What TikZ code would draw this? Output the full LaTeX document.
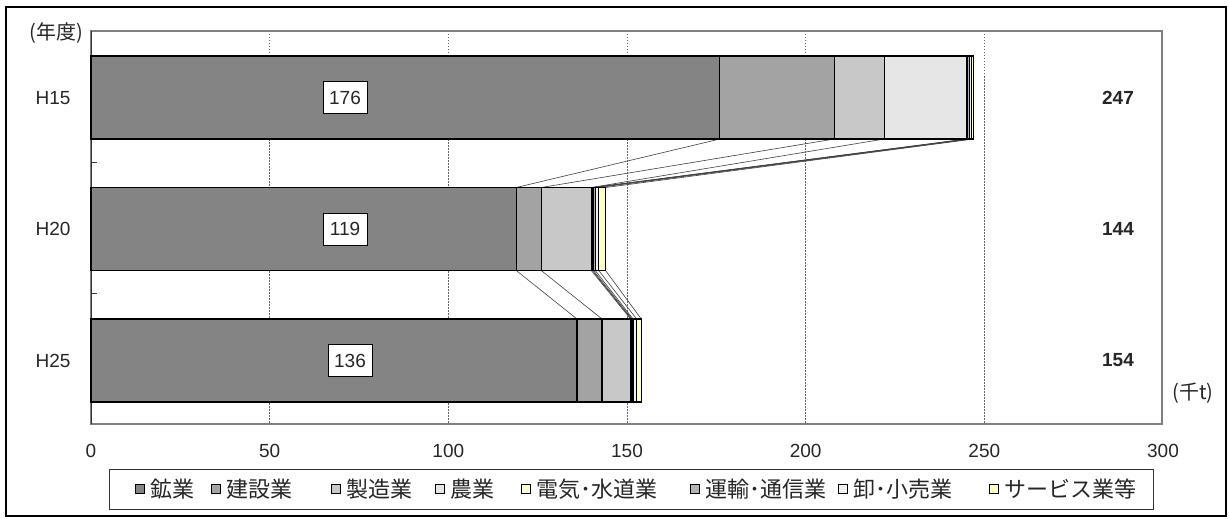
\documentclass[tikz,border=0pt]{standalone}
\usepackage{fontspec}
\setmainfont{Liberation Sans}
\newfontfamily\jp{Noto Sans CJK JP}
\definecolor{cA}{HTML}{848484}
\definecolor{cB}{HTML}{A3A3A3}
\definecolor{cC}{HTML}{C8C8C8}
\definecolor{cD}{HTML}{E6E6E6}
\definecolor{cE}{HTML}{FFFFD8}
\definecolor{cF}{HTML}{B4B4B4}
\definecolor{cG}{HTML}{F2F2F2}
\definecolor{cH}{HTML}{FFFFC8}
\definecolor{framegray}{HTML}{808080}
\definecolor{txt}{HTML}{262626}
\begin{document}
\begin{tikzpicture}[x=1pt,y=-1pt,
  s1/.style={fill=cA}, s2/.style={fill=cB}, s3/.style={fill=cC}, s4/.style={fill=cD},
  s5/.style={fill=cE}, s6/.style={fill=cF}, s7/.style={fill=cG}, s8/.style={fill=cH},
  seg/.style={draw=black, line width=1.1pt},
  conn/.style={draw=black!75, line width=0.6pt},
  grid/.style={draw=black!60, line width=0.8pt, dash pattern=on 1.5pt off 1.5pt},
  fnum/.style={font=\fontsize{19}{19}\selectfont, text=txt, inner sep=0pt},
  ftot/.style={font=\fontsize{19}{19}\selectfont\bfseries, text=txt, inner sep=0pt},
  fjp/.style={font=\jp\fontsize{20}{20}\selectfont, text=txt, inner sep=0pt},
  flg/.style={font=\jp\fontsize{22}{22}\selectfont, text=txt, inner sep=0pt, anchor=west},
  lbl/.style={draw=black, line width=0.8pt, fill=white, minimum width=44pt, minimum height=32pt,
              inner sep=0pt, font=\fontsize{19}{19}\selectfont, text=txt},
  mk/.style={draw=black, line width=1pt, minimum size=9pt, inner sep=0pt}
]
\useasboundingbox (0,0) rectangle (1229,519);
% outer frame
\draw[black, line width=1.2pt] (6,7) rectangle (1226,516);
% plot area
\fill[white] (91,31) rectangle (1162,424);
\foreach \g in {50,100,150,200,250}
  \draw[grid] ({91+\g*3.5733},31) -- ({91+\g*3.5733},424);
\draw[framegray, line width=1.5pt] (91,31) rectangle (1162,424);
\draw[black!80, line width=1pt] (91,31) -- (91,424);
\foreach \t in {162.5,293.5}
  \draw[black!80, line width=1pt] (91,\t) -- (97,\t);
% connector lines
\foreach \a/\b in {176/119,208/126,222/140,245/140.3,245.3/140.6,245.9/141.1,246.4/142.1,247/144}
  \draw[conn] ({91+\a*3.5733},139) -- ({91+\b*3.5733},187.5);
\foreach \a/\b in {119/136,126/143,140/151,140.3/151.2,140.6/151.4,141.1/151.7,142.1/152.7,144/154}
  \draw[conn] ({91+\a*3.5733},270.5) -- ({91+\b*3.5733},319);
% bars
\foreach \a/\b/\s in {0/176/1,176/208/2,208/222/3,222/245/4,245/245.3/5,245.3/245.9/6,245.9/246.4/7,246.4/247/8}
  \draw[seg,s\s] ({91+\a*3.5733},56) rectangle ({91+\b*3.5733},139);
\foreach \a/\b/\s in {0/119/1,119/126/2,126/140/3,140/140.3/4,140.3/140.6/5,140.6/141.1/6,141.1/142.1/7,142.1/144/8}
  \draw[seg,s\s] ({91+\a*3.5733},187.5) rectangle ({91+\b*3.5733},270.5);
\foreach \a/\b/\s in {0/136/1,136/143/2,143/151/3,151/151.2/4,151.2/151.4/5,151.4/151.7/6,151.7/152.7/7,152.7/154/8}
  \draw[seg,s\s] ({91+\a*3.5733},319) rectangle ({91+\b*3.5733},402);
% value labels
\node[lbl] (v15) at (345,97.5) {176};
\node[lbl] (v20) at (345,229) {119};
\node[lbl] (v25) at (350,360.5) {136};
% totals
\node[ftot] (t15) at (1118,97.5) {247};
\node[ftot] (t20) at (1118,229) {144};
\node[ftot] (t25) at (1118,360.5) {154};
\node[fjp] (unit) at (1193,393) {(千t)};
% category labels
\node[fnum] (c15) at (53,98) {H15};
\node[fnum] (c20) at (53,229) {H20};
\node[fnum] (c25) at (53,360.5) {H25};
\node[fjp] (yr) at (56,33) {(年度)};
% x tick labels
\foreach \g [count=\k] in {0,50,100,150,200,250,300}
  \node[fnum] (xt\k) at ({91+\g*3.5733},451) {\g};
% legend
\draw[black!80, line width=1pt] (109,469) rectangle (1153,509);
\foreach \px/\s/\t [count=\k] in {150/1/鉱業, 226/2/建設業, 346/3/製造業, 450/4/農業, 536/5/電気･水道業, 705/6/運輸･通信業, 853/7/卸･小売業, 1004/8/サービス業等} {
  \node[mk,s\s] (lm\k) at ({\px-10},489) {};
  \node[flg] (lt\k) at (\px,489) {\t};
}
\end{tikzpicture}
\end{document}
